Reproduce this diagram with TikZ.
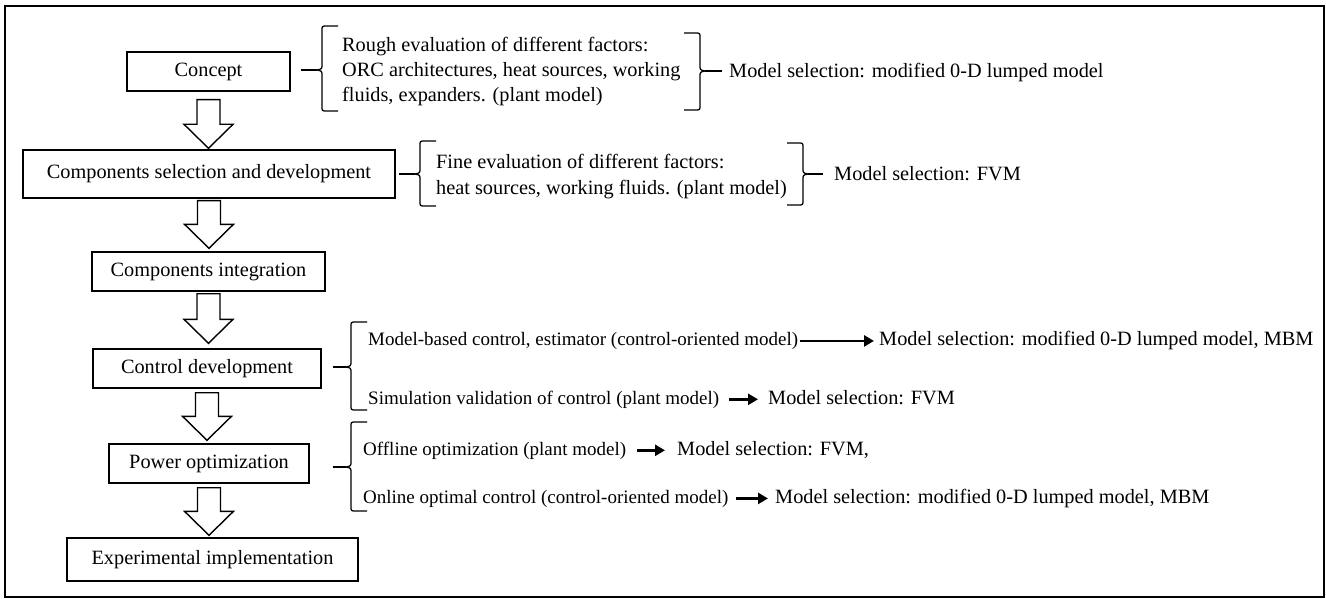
\documentclass[tikz,border=0pt]{standalone}
\usepackage{fontspec}
\setmainfont{Liberation Serif}
\usetikzlibrary{calc,arrows.meta}

\tikzset{
  stage/.style={draw, line width=1.4pt, inner sep=0pt, font=\fontsize{20.3}{25}\selectfont},
  note/.style={inner sep=0pt, anchor=base west, font=\fontsize{20.3}{25}\selectfont},
  smallnote/.style={inner sep=0pt, anchor=base west, font=\fontsize{19}{24}\selectfont},
  curly/.style={line width=1.3pt, line join=round},
  flow/.style={draw, line width=1.4pt, fill=white, line join=miter},
  pointer/.style={line width=2.6pt, -{Triangle[length=10pt,width=11pt]}},
}

% left curly brace: name, spine x, top y, middle y, bottom y (tip points left)
\newcommand\openbrace[5]{%
  \draw[curly] (#2+16,#3) -- (#2+5,#3) .. controls (#2,#3) .. (#2,#3+5)
    -- (#2,#4-6) .. controls (#2,#4-1) .. (#2-5,#4)
    .. controls (#2,#4+1) .. (#2,#4+6) -- (#2,#5-5)
    .. controls (#2,#5) .. (#2+5,#5) -- (#2+16,#5);
  \coordinate (#1) at (#2-5,#4);
}
% right curly brace: name, spine x, top y, middle y, bottom y (tip points right)
\newcommand\closebrace[5]{%
  \draw[curly] (#2-16,#3) -- (#2-5,#3) .. controls (#2,#3) .. (#2,#3+5)
    -- (#2,#4-6) .. controls (#2,#4-1) .. (#2+5,#4)
    .. controls (#2,#4+1) .. (#2,#4+6) -- (#2,#5-5)
    .. controls (#2,#5) .. (#2-5,#5) -- (#2-16,#5);
  \coordinate (#1) at (#2+5,#4);
}
% hollow block arrow between two stages: upper, lower, gap below upper, gap above lower
\newcommand\stagearrow[4]{%
  \path (#1.south) ++(0,#3) coordinate (ta);
  \path (#1.south |- #2.north) ++(0,-#4) coordinate (tb);
  \draw[flow] ($(ta)+(-11.5,0)$) -- ($(ta)+(11.5,0)$) -- ($(tb)+(11.5,-24)$)
    -- ($(tb)+(24.5,-24)$) -- (tb) -- ($(tb)+(-24.5,-24)$)
    -- ($(tb)+(-11.5,-24)$) -- cycle;
}

\begin{document}
\begin{tikzpicture}[x=1pt,y=-1pt]
\useasboundingbox (0,0) rectangle (1326,599);
\draw[line width=2pt] (5,6) rectangle (1324,597);

% stages
\node[stage, minimum width=163, minimum height=39] (b1) at (208.5,71.5) {Concept};
\node[stage, minimum width=372, minimum height=48] (b2) at (209,174) {Components selection and development};
\node[stage, minimum width=233, minimum height=39] (b3) at (208.5,271.5) {Components integration};
\node[stage, minimum width=228, minimum height=39] (b4) at (207,368.5) {Control development};
\node[stage, minimum width=200, minimum height=39] (b5) at (209,463.5) {Power optimization};
\node[stage, minimum width=291, minimum height=43] (b6) at (212.5,559.5) {Experimental implementation};

\stagearrow{b1}{b2}{8}{1}
\stagearrow{b2}{b3}{2}{3}
\stagearrow{b3}{b4}{2}{5}
\stagearrow{b4}{b5}{4}{3}
\stagearrow{b5}{b6}{4}{2}

% concept
\node[note] (r1a) at (342,52) {Rough evaluation of different factors:};
\node[note] (r1b) at (342,77) {ORC architectures, heat sources, working};
\node[note] (r1c) at (342,102) {fluids, expanders. (plant model)};
\node[note] (m1) at (729,78) {Model selection: modified 0-D lumped model};
\openbrace{k1}{322}{26}{70}{111}
\closebrace{k2}{700}{33}{71}{110}
\draw[curly] ($(b1.east |- k1)+(10,0)$) -- (k1);
\draw[curly] (k2) -- ($(k2 -| m1.west)+(-7,0)$);

% components selection
\node[note] (f1a) at (436,169) {Fine evaluation of different factors:};
\node[note] (f1b) at (436,194) {heat sources, working fluids. (plant model)};
\node[note] (m2) at (834,181) {Model selection: FVM};
\openbrace{k3}{420}{141}{174}{206}
\closebrace{k4}{803}{143}{174}{205}
\draw[curly] ($(b2.east |- k3)+(3,0)$) -- (k3);
\draw[curly] (k4) -- ($(k4 -| m2.west)+(-11,0)$);

% control development
\node[smallnote] (c1) at (368,345.5) {Model-based control, estimator (control-oriented model)};
\node[note] (cm1) at (879,345) {Model selection: modified 0-D lumped model, MBM};
\node[smallnote] (c2) at (368,404) {Simulation validation of control (plant model)};
\node[note] (cm2) at (768,404) {Model selection: FVM};
\openbrace{k5}{351}{322}{367}{410}
\draw[curly] ($(b4.east |- k5)+(11,0)$) -- (k5);
\draw[pointer] ($(c1.east)+(2,0)$) -- ($(c1.east -| cm1.west)+(-5,0)$);
\draw[pointer] ($(c2.east)+(10,0)$) -- ($(c2.east -| cm2.west)+(-10,0)$);

% power optimization
\node[smallnote] (p1) at (363,455) {Offline optimization (plant model)};
\node[note] (pm1) at (677,455) {Model selection: FVM,};
\node[smallnote] (p2) at (363,503) {Online optimal control (control-oriented model)};
\node[note] (pm2) at (775,503) {Model selection: modified 0-D lumped model, MBM};
\openbrace{k6}{351}{422}{467}{511}
\draw[curly] ($(b5.east |- k6)+(23,0)$) -- (k6);
\draw[pointer] ($(p1.east)+(11,0)$) -- ($(p1.east -| pm1.west)+(-12,0)$);
\draw[pointer] ($(p2.east)+(7,0)$) -- ($(p2.east -| pm2.west)+(-7,0)$);
\end{tikzpicture}
\end{document}
